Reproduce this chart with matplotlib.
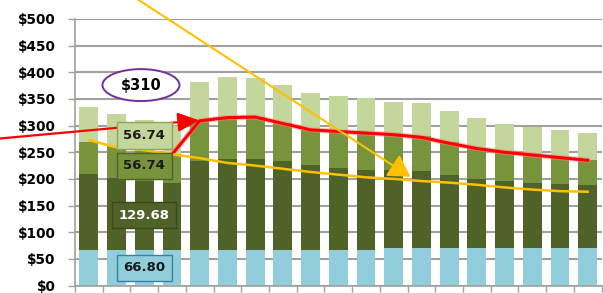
import numpy as np
import matplotlib
matplotlib.use("Agg")
import matplotlib.pyplot as plt
from matplotlib.patches import Ellipse
import matplotlib.patheffects as pe

# ---- data ----
periods = list(range(1, 20))
seg_blue = [66.8, 66.8, 66.8, 66.8, 66.8, 66.8, 66.8, 66.8, 66.8, 66.8, 66.8,
            69.5, 69.5, 69.5, 69.5, 69.5, 69.5, 69.5, 69.5]
seg_dark = [143.2, 135.2, 129.68, 126.2, 167.2, 170.7, 171.2, 166.2, 158.8, 153.9,
            150.8, 148.1, 146.2, 138.5, 130.5, 126.5, 123.5, 120.0, 118.2]
seg_mid = [60.0, 60.0, 56.74, 54.0, 75.0, 77.5, 78.0, 71.0, 66.4, 68.3,
           69.4, 66.4, 64.3, 62.0, 58.0, 54.0, 51.0, 49.5, 48.3]
seg_light = [65.0, 60.0, 56.74, 53.0, 72.0, 77.0, 73.0, 72.0, 69.0, 67.0,
             64.0, 61.0, 63.0, 58.0, 57.0, 53.0, 53.0, 53.0, 51.0]
red_line = [np.nan, np.nan, np.nan, 246, 309, 315, 316, 304, 292, 289,
            286, 283, 278, 267, 257, 250, 245, 240, 235]
orange_line = [273, 259, 254, 246, 239, 230, 225, 219, 213, 208,
               203, 200, 196, 193, 189, 184, 180, 177, 176]
label_values = [66.80, 129.68, 56.74, 56.74]
label_bar = 2
callout_text = "$310"
y_ticks = [0, 50, 100, 150, 200, 250, 300, 350, 400, 450, 500]
y_ticklabels = ["$" + str(v) for v in y_ticks]

# ---- style ----
c_blue = "#92CDDC"
c_dark = "#4F6228"
c_mid = "#77933C"
c_light = "#C3D69B"
c_red = "#FF0000"
c_orange = "#FFC000"
c_grid = "#A0A0A0"

fig = plt.figure(figsize=(6.03, 2.93), dpi=100)
ax = fig.add_axes([75 / 603, 7.5 / 293, 526.5 / 603, 266.5 / 293])

x = np.arange(len(periods))
w = 0.68
b1 = np.array(seg_blue)
b2 = b1 + np.array(seg_dark)
b3 = b2 + np.array(seg_mid)
ax.bar(x, seg_blue, w, color=c_blue, zorder=2)
ax.bar(x, seg_dark, w, bottom=b1, color=c_dark, zorder=2)
ax.bar(x, seg_mid, w, bottom=b2, color=c_mid, zorder=2)
ax.bar(x, seg_light, w, bottom=b3, color=c_light, zorder=2)

ax.plot(x, red_line, color=c_red, lw=2.2, zorder=4,
        path_effects=[pe.Stroke(linewidth=3.8, foreground="#ff8080", alpha=0.5), pe.Normal()])
ax.plot(x, orange_line, color=c_orange, lw=1.8, zorder=4)

ax.set_xlim(-0.5, len(periods) - 0.5)
ax.set_ylim(0, 500)
ax.set_yticks(y_ticks)
ax.set_yticklabels(y_ticklabels, fontsize=9.8, fontweight="bold", family="DejaVu Sans")
ax.set_xticks(np.arange(len(periods) + 1) - 0.5)
ax.set_xticklabels([])
ax.tick_params(axis="y", length=5, width=1.0, color=c_grid, pad=9)
ax.tick_params(axis="x", length=4, width=1.0, color=c_grid, direction="out")
ax.grid(axis="y", color=c_grid, lw=1.5, zorder=0)
ax.set_axisbelow(True)
for s in ["top", "right"]:
    ax.spines[s].set_visible(False)
ax.spines["left"].set_color(c_grid)
ax.spines["bottom"].set_color(c_grid)
ax.spines["left"].set_linewidth(1.2)
ax.spines["bottom"].set_linewidth(1.2)

# data labels for one bar
bottoms = [0, b1[label_bar], b2[label_bar], b3[label_bar]]
faces = [c_blue, c_dark, c_mid, c_light]
edges = ["#31859C", "#3A4A1C", "#4F6228", "#8EA65A"]
tcols = ["#1a1a1a", "white", "#1a1a1a", "#1a1a1a"]
for v, bt, fc, ec, tc in zip(label_values, bottoms, faces, edges, tcols):
    ax.text(label_bar, bt + v / 2, f"{v:.2f}", ha="center", va="center",
            fontsize=9.5, fontweight="bold", color=tc, zorder=6,
            bbox=dict(boxstyle="square,pad=0.5", fc=fc, ec=ec, lw=1.0))

# callout ellipse
ell = Ellipse((1.88, 376), 2.78, 60, fc="white", ec="#7030A0", lw=1.4, zorder=5)
ax.add_patch(ell)
ax.text(1.88, 376, callout_text, ha="center", va="center", fontsize=10.5,
        fontweight="bold", color="black", zorder=6)

# arrows
ax.annotate("", xy=(3.98, red_line[4] + 1), xycoords="data",
            xytext=(0, 154.5), textcoords="figure pixels",
            arrowprops=dict(arrowstyle="-|>,head_length=1.0,head_width=0.45",
                            color=c_red, lw=1.6, mutation_scale=13,
                            shrinkA=0, shrinkB=0), zorder=5)
ax.annotate("", xy=(11.6, 204), xycoords="data",
            xytext=(134, 296), textcoords="figure pixels",
            arrowprops=dict(arrowstyle="-|>,head_length=1.0,head_width=0.6",
                            color=c_orange, lw=1.5, mutation_scale=13,
                            shrinkA=0, shrinkB=0), zorder=5)

fig.savefig("out.png", dpi=100)
